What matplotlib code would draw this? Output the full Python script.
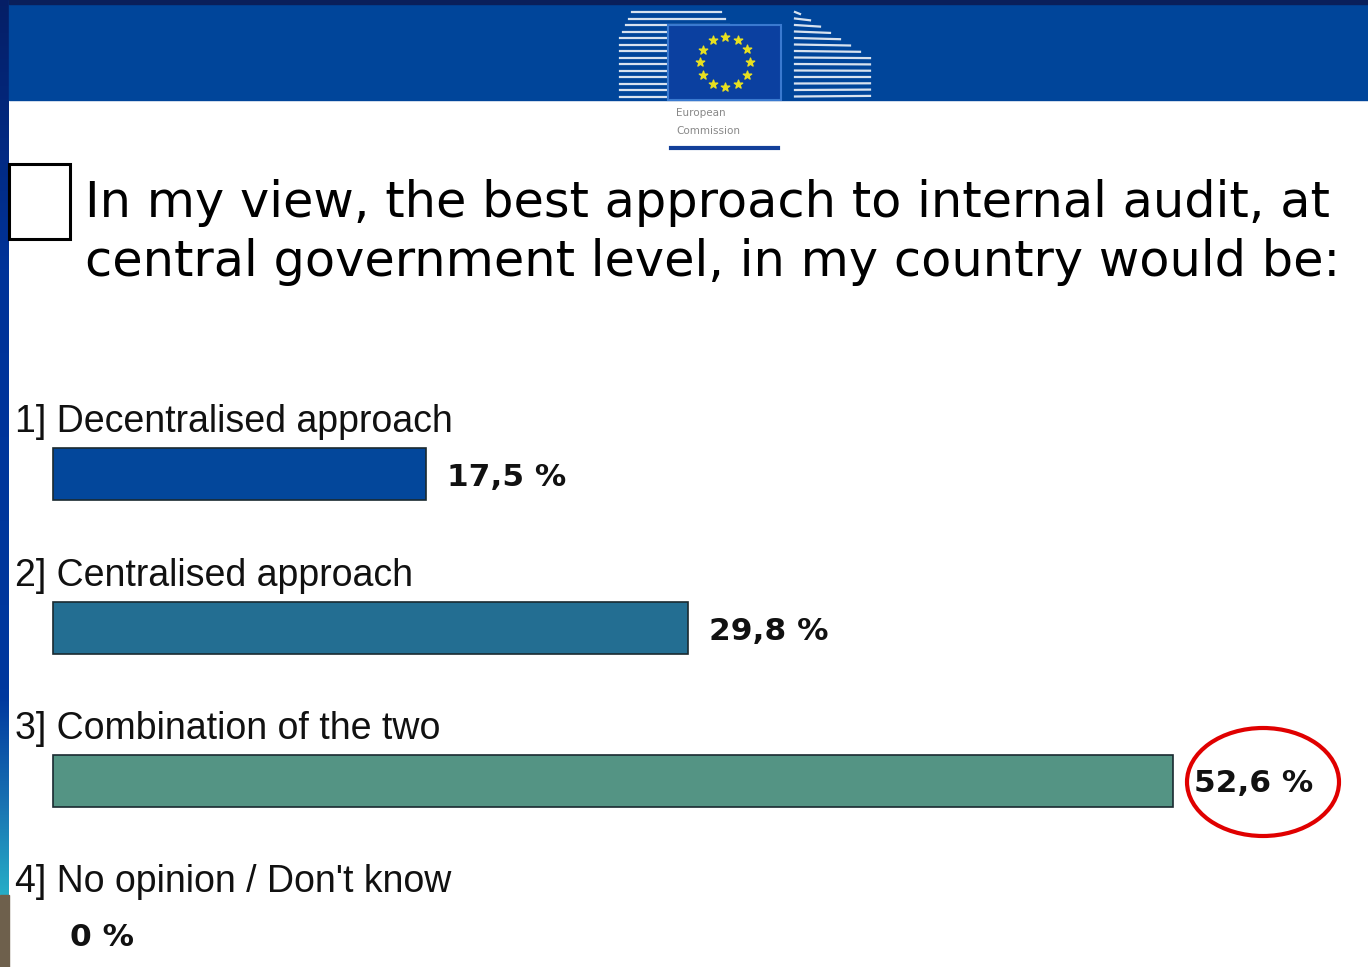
import numpy as np
import matplotlib
matplotlib.use("Agg")
import matplotlib.pyplot as plt
import matplotlib.patches as patches

# survey results
labels = ["1] Decentralised approach", "2] Centralised approach",
          "3] Combination of the two", "4] No opinion / Don't know"]
values = [17.5, 29.8, 52.6, 0.0]
value_text = ["17,5 %", "29,8 %", "52,6 %", "0 %"]
bar_colors = ["#03479b", "#236e92", "#549484", "#549484"]
title_lines = ["In my view, the best approach to internal audit, at",
               "central government level, in my country would be:"]

W, H = 1368, 967
fig = plt.figure(figsize=(W / 100, H / 100), dpi=100)
fig.patch.set_facecolor("white")

# decoration layer in pixel units
deco = fig.add_axes([0, 0, 1, 1])
deco.set_xlim(0, W)
deco.set_ylim(H, 0)
deco.axis("off")

# left gradient stripe
stops = np.array([0.0, 0.3, 0.78, 0.9, 1.0])
grad = np.array([[0.02, 0.12, 0.4], [0.0, 0.2, 0.6], [0.0, 0.22, 0.62],
                 [0.1, 0.45, 0.7], [0.15, 0.68, 0.78]])
ys = np.linspace(0, 1, 300)
stripe = np.array([[np.interp(t, stops, grad[:, c]) for c in range(3)]
                   for t in ys])[:, None, :]
deco.imshow(stripe, extent=[0, 9, 895, 0], aspect="auto", zorder=1)
deco.add_patch(patches.Rectangle((0, 895), 9, 72, color="#6e604c", zorder=1))

# header band
deco.add_patch(patches.Rectangle((9, 0), W, 100, color="#00459a", zorder=1))
deco.add_patch(patches.Rectangle((9, 0), W, 4, color="#0a1f5a", zorder=2))

# logo: building stripes
for i in range(14):
    y = 12 + i * 6.5
    x_end = 745 - max(0, 6 - i) * 4
    deco.plot([620 + max(0, 4 - i) * 3, x_end], [y, y], color="white", lw=1.6, alpha=0.85, zorder=2)
    deco.plot([795, 870 - max(0, 7 - i) * 10], [y, y + 2 - i * 0.2], color="white", lw=1.6,
              alpha=0.85, zorder=2)
deco.add_patch(patches.Rectangle((668, 25), 113, 75, facecolor="#0b40a0",
                                 edgecolor="#3a7ad0", lw=1.5, zorder=3))
ang = np.linspace(0, 2 * np.pi, 13)[:-1]
deco.scatter(725 + 25 * np.cos(ang), 62 + 25 * np.sin(ang), marker="*", s=40,
             color="#e8e020", zorder=4)
deco.text(676, 113, "European", fontsize=7.5, color="#888888", va="center", zorder=4)
deco.text(676, 131, "Commission", fontsize=7.5, color="#888888", va="center", zorder=4)
deco.plot([671, 778], [148, 148], color="#13409a", lw=3, zorder=4)

# black box left of title
deco.add_patch(patches.Rectangle((9, 164), 61, 75, fill=False, edgecolor="black", lw=2.2, zorder=3))
for yb, line in zip([217, 276], title_lines):
    deco.text(85, yb, line, fontsize=35.6, family="DejaVu Sans", color="black",
              va="baseline", zorder=3)

# red ellipse
deco.add_patch(patches.Ellipse((1263, 782), 152, 108, fill=False, edgecolor="#e00000",
                               lw=3, zorder=5))

# chart layer: x in percent, y in pixels
px_per_pct = 21.3
x0 = 53
ax = fig.add_axes([0, 0, 1, 1])
ax.set_xlim(-x0 / px_per_pct, (W - x0) / px_per_pct)
ax.set_ylim(H, 0)
ax.axis("off")
ax.patch.set_alpha(0)

centers = [474, 628, 781, 934]
ax.barh(centers, values, height=52, left=0, color=bar_colors,
        edgecolor="#1a2a30", linewidth=[1.2 if v > 0 else 0 for v in values], zorder=3)
for c, v, lab, vt in zip(centers, values, labels, value_text):
    ax.text(-38 / px_per_pct, c - 52, lab, fontsize=27, family="Liberation Sans",
            color="#111111", va="center", ha="left")
    ax.text(v + (21 if v > 0 else 17) / px_per_pct, c + 3, vt, fontsize=22.5,
            family="DejaVu Sans", fontweight="bold", color="#111111", va="center", ha="left")

fig.savefig("out.png", dpi=100)
